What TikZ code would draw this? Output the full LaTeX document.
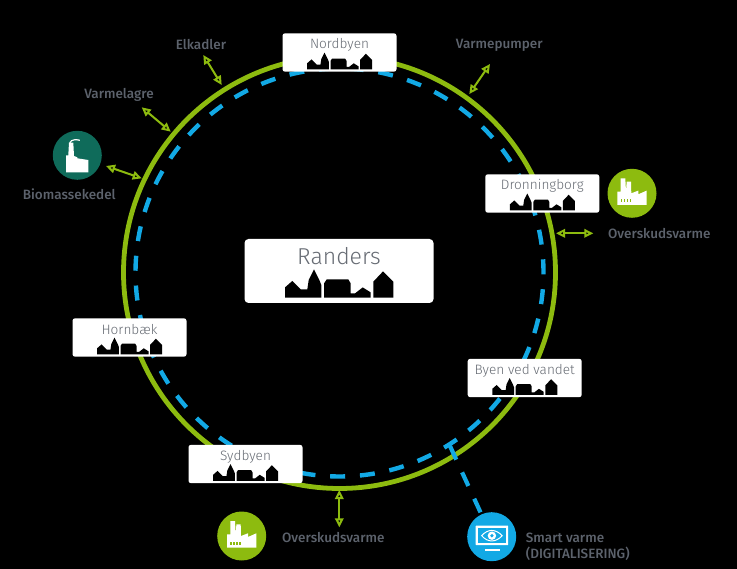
\documentclass[tikz,border=0pt]{standalone}
\usepackage{fontspec}
\setmainfont{Fira Sans}
\newfontfamily\lightfont{Fira Sans Light}
\newfontfamily\mediumfont{Fira Sans Medium}
\usetikzlibrary{arrows.meta}

\definecolor{ringgreen}{HTML}{8DBB0F}
\definecolor{ringblue}{HTML}{12A9E5}
\definecolor{biogreen}{HTML}{0F6B5A}
\definecolor{labelgray}{HTML}{5C626C}
\definecolor{towngray}{HTML}{676C74}

\tikzset{
	townbox/.style={rectangle, fill=white, rounded corners=2.5pt, minimum width=114pt, minimum height=38.4pt, inner sep=0pt},
	townname/.style={text=towngray, font=\lightfont\fontsize{13.6}{15}\selectfont, inner sep=0pt},
	sidelabel/.style={text=labelgray, font=\mediumfont\fontsize{13.5}{16.5}\selectfont, inner sep=0pt},
	iconcircle/.style={circle, minimum size=49pt, inner sep=0pt},
	duplex/.style={ringgreen, line width=2pt, {Triangle[open,length=9pt,width=8.5pt]}-{Triangle[open,length=9pt,width=8.5pt]}},
	skyline/.pic={
		\fill[black] (-54,0) -- (-54,-10.3) -- (-46.7,-16.7) -- (-38.3,-8.3) -- (-31.7,-8.3) -- (-30.3,-17.7) -- (-25,-28.3) -- (-19.7,-17.7) -- (-17.7,-12.7) -- (-17.7,0) -- cycle;
		\fill[black] (-15,0) -- (-15,-14.3) -- (-12.3,-18.3) -- (9.3,-18.3) -- (11.7,-14.3) -- (11.7,-4.3) -- (16,-4.3) -- (23.7,-10.3) -- (31.7,-5.3) -- (31.7,0) -- cycle;
		\fill[black] (34.3,0) -- (34.3,-16) -- (44,-26.3) -- (54.3,-16) -- (54.3,0) -- cycle;
	},
	wastefactory/.pic={
		\fill[white] (-14.7,11.7) -- (-14.7,-1.7) -- (-11.3,-1.7) -- (-11.3,-15) -- (-6.7,-15) -- (-6,-1.7) -- (-5.3,-11.7) -- (-1,-11.7) -- (-0.7,0) -- (6.3,-2.7) -- (6.3,1) -- (14.7,-2.7) -- (14.7,11.7) -- cycle;
		\foreach \wx in {-11.5,-8.5,-5.5,-2.5}
			\fill[ringgreen] (\wx,6) rectangle ++(1.5,3);
	},
	biofactory/.pic={
		\fill[white] (-11.3,17) -- (-11.3,0) -- (-9,0) -- (-8.3,-12.7) -- (-4,-12.7) -- (-3.3,0.7) -- (0,2) -- (0,3) -- (11,4.7) -- (11,17) -- cycle;
		\draw[white, line width=1.2pt] (-7.5,-12.5) .. controls (-6,-16) and (-1,-16) .. (2.5,-15);
	},
	monitor/.pic={
		\fill[white, rounded corners=0.5pt] (-16,-11) rectangle (16.5,8.5);
		\fill[ringblue] (-13.5,-8.5) rectangle (14,6);
		\draw[white, line width=1pt] (-10,-1) .. controls (-4,-8) and (4,-8) .. (10.5,-1) .. controls (4,6) and (-4,6) .. cycle;
		\fill[white] (0.2,-1) circle [radius=4.2];
		\fill[ringblue] (0.2,-1) circle [radius=1.8];
		\fill[white] (-7,12) rectangle (8,13.8);
	},
}

\begin{document}
\begin{tikzpicture}[x=1pt,y=-1pt]
	\fill[black] (0,0) rectangle (737,569);
	\useasboundingbox (0,0) rectangle (737,569);

	\coordinate (center) at (339.5,272.5);
	\draw[ringblue, line width=4.4pt, dash pattern=on 15pt off 14.81pt, dash phase=13.1pt] (center) circle [radius=204];
	\draw[ringgreen, line width=4.8pt] (center) circle [radius=216];

	\node[townbox] (nordbyen) at (339.5,52.5) {};
	\node[townname] at (339.5,45) {Nordbyen};
	\pic[scale=.6] at (339.5,69.5) {skyline};

	\node[townbox] (dronningborg) at (542.3,193.5) {};
	\node[townname] at (542.3,186) {Dronningborg};
	\pic[scale=.6] at (542.3,210.5) {skyline};

	\node[townbox] (byenvedvandet) at (524.7,378) {};
	\node[townname] at (524.7,370.5) {Byen ved vandet};
	\pic[scale=.6] at (524.7,395) {skyline};

	\node[townbox] (sydbyen) at (245.5,464) {};
	\node[townname] at (245.5,456.5) {Sydbyen};
	\pic[scale=.6] at (245.5,481) {skyline};

	\node[townbox] (hornbaek) at (129.5,337.5) {};
	\node[townname] at (129.5,330) {Hornbæk};
	\pic[scale=.6] at (129.5,354.5) {skyline};

	\node[townbox, rounded corners=4pt, minimum width=189pt, minimum height=64pt] (randers) at (339,271) {};
	\node[townname, font=\lightfont\fontsize{23}{28}\selectfont] at (339,256.5) {Randers};
	\pic at (339,297.7) {skyline};

	\node[iconcircle, fill=biogreen] (biomasse) at (77.3,155.3) {};
	\pic at (biomasse) {biofactory};
	\node[iconcircle, fill=ringgreen] (overskudright) at (632,193.3) {};
	\pic at (overskudright) {wastefactory};
	\node[iconcircle, fill=ringgreen] (overskudbottom) at (241.7,536) {};
	\pic at (overskudbottom) {wastefactory};
	\node[iconcircle, fill=ringblue] (smart) at (491.7,536.7) {};
	\pic at (smart) {monitor};

	\node[sidelabel] (elkadler) at (201,45) {Elkadler};
	\node[sidelabel] (varmelagre) at (119,95) {Varmelagre};
	\node[sidelabel] (biolabel) at (69.3,194.3) {Biomassekedel};
	\node[sidelabel] (varmepumper) at (499.3,45) {Varmepumper};
	\node[sidelabel] (overskudrightlabel) at (659.3,234) {Overskudsvarme};
	\node[sidelabel] (overskudbottomlabel) at (333.3,537.7) {Overskudsvarme};
	\node[sidelabel, anchor=west, align=left] (smartlabel) at (525.7,547) {Smart varme\\(DIGITALISERING)};

	\coordinate (elkadlera) at (203.3,55);
	\coordinate (elkadlerb) at (221.7,85);
	\coordinate (lagera) at (141.7,107.3);
	\coordinate (lagerb) at (170.7,131.7);
	\coordinate (bioa) at (106,166);
	\coordinate (biob) at (141.7,178.3);
	\coordinate (pumpea) at (490,64);
	\coordinate (pumpeb) at (469.3,94);
	\coordinate (rightb) at (556,233.3);
	\coordinate (righta) at (593.3,233.3);
	\coordinate (bottomb) at (339.3,490);
	\coordinate (bottoma) at (339.3,527.3);
	\draw[duplex] (elkadlera) -- (elkadlerb);
	\draw[duplex] (lagera) -- (lagerb);
	\draw[duplex] (bioa) -- (biob);
	\draw[duplex] (pumpea) -- (pumpeb);
	\draw[duplex] (righta) -- (rightb);
	\draw[duplex] (bottoma) -- (bottomb);

	\coordinate (tap) at (450,446);
	\draw[ringblue, line width=4.2pt, dash pattern=on 15pt off 14pt] (tap) -- (smart);
\end{tikzpicture}
\end{document}
